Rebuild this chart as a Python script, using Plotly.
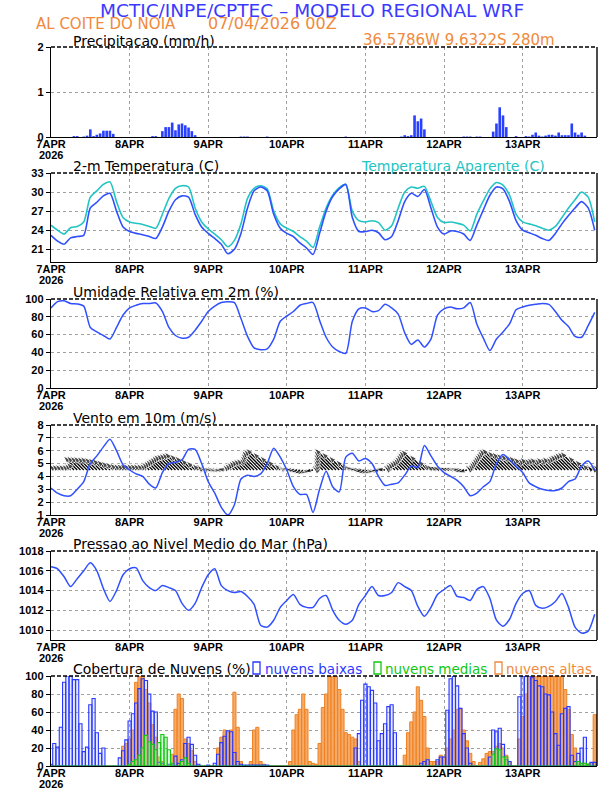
import plotly.graph_objects as go

W, H = 612, 792
L_PX, R_PX = 51, 597

hours = list(range(168))
t2 = list(range(0, 168, 2))
day_ticks = [0, 24, 48, 72, 96, 120, 144]
day_labels = ["7APR", "8APR", "9APR", "10APR", "11APR", "12APR", "13APR"]
year_label = "2026"

# Precipitation (mm/h), hourly
precip = [
    0, 0, 0, 0, 0, 0, 0, 0.02, 0.02, 0, 0.01, 0.03, 0.17, 0.02, 0.05, 0.08, 0.14, 0.14, 0.14, 0.07, 0, 0, 0, 0,
    0, 0, 0, 0, 0, 0, 0, 0.02, 0.02, 0, 0.13, 0.22, 0.22, 0.32, 0.15, 0.28, 0.30, 0.26, 0.21, 0.13, 0.04, 0, 0, 0,
    0, 0, 0, 0, 0, 0, 0, 0, 0, 0, 0.01, 0.01, 0.01, 0, 0, 0, 0, 0, 0.01, 0, 0, 0, 0, 0,
    0, 0, 0, 0, 0, 0, 0, 0, 0, 0, 0, 0, 0, 0, 0, 0, 0, 0, 0.01, 0, 0, 0, 0, 0,
    0, 0, 0, 0, 0, 0, 0, 0, 0, 0, 0, 0.01, 0.04, 0.02, 0.04, 0.48, 0.35, 0.41, 0.17, 0, 0, 0, 0, 0,
    0, 0, 0, 0, 0, 0, 0.01, 0.01, 0.01, 0, 0.01, 0.01, 0, 0, 0, 0.12, 0.30, 0.66, 0.48, 0.22, 0, 0, 0.02, 0,
    0, 0.02, 0.01, 0.05, 0.10, 0.03, 0.01, 0.03, 0.05, 0.05, 0.03, 0.10, 0.04, 0.04, 0.04, 0.30, 0.10, 0.05, 0.10, 0.03, 0, 0, 0, 0,
]

# 2-m temperature (C), every 2 h
temp2m = [
    23.2, 22.3, 21.8, 22.8, 23.0, 23.2, 27.5, 28.4, 29.4, 29.8, 27.0, 24.5,
    23.8, 23.5, 23.3, 23.0, 22.7, 24.5, 27.0, 28.8, 29.4, 29.2, 26.5, 24.5,
    23.5, 22.7, 21.8, 20.3, 21.0, 23.5, 27.5, 30.2, 30.8, 30.2, 26.5, 24.3,
    23.5, 23.0, 22.0, 21.2, 20.2, 23.5, 27.0, 29.3, 30.5, 31.2, 26.0, 23.8,
    23.8, 24.0, 23.6, 22.5, 23.0, 25.5, 28.5, 29.8, 29.3, 30.4, 27.5, 24.5,
    23.4, 23.9, 23.8, 23.4, 22.4, 24.8, 27.2, 29.5, 30.8, 30.5, 28.5, 25.5,
    24.0, 23.6, 23.2, 22.7, 22.4, 23.5, 25.0, 26.3, 27.5, 28.5, 27.5, 24.0,
]
# Apparent temperature (C), every 2 h
temp_apar = [
    24.8, 24.0, 23.4, 24.4, 24.6, 25.3, 29.2, 30.2, 31.2, 31.6, 28.5, 26.0,
    25.3, 25.1, 24.9, 24.6, 24.3, 26.5, 29.0, 30.6, 31.0, 30.8, 27.5, 25.3,
    24.2, 23.4, 22.5, 21.4, 22.4, 25.0, 29.0, 30.6, 31.0, 30.5, 27.0, 25.0,
    24.3, 23.8, 23.0, 22.3, 21.3, 24.5, 27.5, 29.5, 30.7, 31.2, 27.0, 25.5,
    25.3, 25.5, 25.2, 24.0, 24.7, 27.5, 30.0, 30.8, 30.6, 30.9, 28.5, 26.0,
    25.2, 25.3, 25.1, 24.8, 23.9, 26.5, 28.6, 30.5, 31.5, 31.1, 29.5, 26.5,
    25.3, 25.0, 24.7, 24.3, 24.0, 24.6, 26.0, 27.5, 28.8, 30.0, 29.2, 25.3,
]
# Relative humidity (%), every 2 h
umidade = [
    90, 97, 98, 95, 94.5, 92, 68, 63, 59, 55, 68, 82,
    90, 93, 95, 95, 95.5, 86, 68, 59, 56, 57, 65, 75,
    86, 92, 96, 97, 96, 78, 58, 45, 43, 44, 55, 75,
    81, 86, 93, 95, 96, 76, 57, 46, 41, 39, 75, 89,
    90, 86, 87, 94, 90, 83, 62, 49, 54, 46, 55, 82,
    89, 91, 89, 90, 96, 72, 56, 42, 55, 63, 72, 88,
    91, 93, 94, 95, 94, 86, 76, 69, 58, 57, 70, 85,
]
# Wind speed 10 m (m/s), every 2 h
vento = [
    3.1, 2.7, 2.5, 2.5, 3.0, 3.6, 5.0, 5.6, 6.3, 6.9, 6.0, 4.9,
    4.5, 4.2, 4.0, 3.4, 3.1, 4.3, 5.0, 5.1, 5.3, 6.1, 6.1, 5.0,
    3.6, 2.7, 1.6, 1.0, 1.8, 3.8, 4.1, 4.0, 4.2, 5.0, 6.2, 5.5,
    4.5, 3.2, 2.6, 2.6, 1.2, 3.0, 4.4, 3.2, 2.8, 5.5, 5.8, 5.2,
    5.4, 5.0, 4.0, 3.3, 3.4, 3.5, 4.1, 4.8, 4.7, 6.4, 5.6, 4.8,
    4.3, 4.0, 3.7, 3.2, 2.5, 2.7, 3.2, 3.6, 5.0, 5.7, 5.3, 4.8,
    4.3, 3.5, 3.2, 3.0, 2.9, 2.9, 3.1, 3.6, 3.8, 4.8, 5.2, 4.5,
]
# Wind vector components (m/s), hourly
vento_u = [
    -1.8, -1.8, -1.8, -1.8, -1.8, -1.8, -2.0, -2.4, -4.4, -4.4, -4.3, -4.3, -4.2, -4.2, -4.0, -3.8, -3.6, -3.2, -2.8, -2.5, -2.2, -2.0, -2.0, -2.0,
    -2.0, -2.0, -2.0, -2.0, -2.0, -2.0, -2.4, -2.8, -3.2, -3.6, -4.0, -4.4, -4.8, -5.0, -5.2, -5.4, -5.6, -5.0, -4.4, -3.6, -2.8, -2.0, -1.4, -1.0,
    -2.5, -2.5, -2.5, -2.5, -2.5, -2.5, -1.6, -2.0, -2.4, -2.8, -3.2, -3.4, -3.6, -3.6, -4.4, -5.2, -6.0, -6.4, -6.8, -5.6, -4.4, -3.2, -2.0, -1.6,
    -2.5, -2.8, -3.0, -3.0, -3.0, -3.0, -3.0, -3.0, -3.0, -1.0, -2.0, -3.0, -4.0, -5.0, -6.0, -6.8, -5.6, -4.4, -3.2, -2.4, -2.8, -3.0, -3.0, -3.0,
    -3.5, -3.5, -3.5, -3.5, -3.5, -3.5, -3.0, -1.2, -2.0, -2.4, -2.8, -3.2, -3.6, -4.2, -4.8, -5.4, -6.0, -6.4, -4.8, -3.2, -2.4, -2.5, -2.5, -2.5,
    -2.5, -2.5, -2.5, -2.5, -2.5, -2.8, -3.0, -3.0, -1.2, -1.8, -2.4, -3.0, -3.6, -4.2, -4.8, -5.4, -6.0, -6.6, -6.8, -6.0, -5.6, -5.2, -5.0, -4.8,
    -4.4, -4.0, -3.6, -4.0, -3.6, -3.8, -4.0, -3.6, -4.0, -3.8, -4.2, -4.0, -4.4, -4.8, -5.0, -5.4, -5.6, -5.8, -4.4, -3.2, -2.0, -1.4, -1.2, -1.2,
]
vento_v = [
    1.8, 1.8, 1.8, 1.8, 1.8, 1.8, 2.0, 2.4, 4.4, 4.4, 4.3, 4.3, 4.2, 4.2, 4.0, 3.8, 3.6, 3.2, 2.8, 2.5, 2.2, 2.0, 2.0, 2.0,
    2.0, 2.0, 2.0, 2.0, 2.0, 2.0, 2.4, 2.8, 3.2, 3.6, 4.0, 4.4, 4.8, 5.0, 5.2, 5.4, 5.6, 5.0, 4.4, 3.6, 2.8, 2.0, 1.4, 1.0,
    0.3, 0.0, -0.3, -0.3, 0.0, 0.4, 1.6, 2.0, 2.4, 2.8, 3.2, 3.4, 3.6, 3.6, 4.4, 5.2, 6.0, 6.4, 6.8, 5.6, 4.4, 3.2, 2.0, 1.2,
    0.8, 0.4, 0.0, -0.4, -0.8, -1.2, -1.4, -1.2, -0.6, 1.0, 2.0, 3.0, 4.0, 5.0, 6.0, 6.8, 5.6, 4.4, 3.2, 2.0, 1.2, 0.6, 0.2, -0.2,
    -0.6, -1.0, -1.2, -1.0, -0.6, -0.2, 0.4, 1.2, 2.0, 2.4, 2.8, 3.2, 3.6, 4.2, 4.8, 5.4, 6.0, 6.4, 4.8, 3.2, 2.0, 1.4, 1.2, 1.0,
    1.0, 0.8, 0.8, 0.6, 0.4, 0.0, -0.6, -0.8, 1.2, 1.8, 2.4, 3.0, 3.6, 4.2, 4.8, 5.4, 6.0, 6.6, 6.8, 6.0, 5.6, 5.2, 5.0, 4.8,
    4.4, 4.0, 3.6, 4.0, 3.6, 3.8, 4.0, 3.6, 4.0, 3.8, 4.2, 4.0, 4.4, 4.8, 5.0, 5.4, 5.6, 5.8, 4.4, 3.2, 2.0, 1.4, 1.2, 1.2,
]
# Mean sea level pressure (hPa), every 2 h
pressao = [
    1016.4, 1016.2, 1015.4, 1014.4, 1015.2, 1016.0, 1016.8, 1016.0, 1014.2, 1012.9, 1014.0, 1015.6,
    1016.2, 1016.3, 1015.0, 1014.3, 1014.0, 1014.5, 1014.3, 1014.0, 1012.7, 1012.0, 1012.7, 1014.3,
    1015.6, 1016.2, 1014.5, 1014.0, 1013.8, 1013.9, 1013.4, 1012.6, 1010.5, 1010.3, 1011.0, 1012.3,
    1013.0, 1013.6, 1012.6, 1012.3, 1012.3, 1013.2, 1013.5, 1012.0, 1011.0, 1010.6, 1011.0, 1012.6,
    1013.5, 1014.4, 1013.5, 1013.5, 1013.8, 1014.8, 1014.4, 1014.0, 1012.4, 1011.4, 1012.3, 1013.6,
    1014.1, 1014.5, 1013.4, 1013.3, 1013.0, 1014.1, 1014.4, 1013.2, 1011.0, 1010.4, 1011.1, 1012.7,
    1013.7, 1014.0, 1012.5, 1012.2, 1012.4, 1012.9, 1013.7, 1012.3, 1010.3, 1009.7, 1009.9, 1011.6,
]
# Cloud cover (%), hourly
nuvens_baixas = [
    2, 25, 21, 43, 93, 100, 100, 96, 96, 47, 16, 21, 68, 75, 37, 14, 20, 0, 0, 0, 0, 9, 17, 29,
    50, 58, 70, 86, 97, 95, 80, 61, 60, 4, 3, 0, 2, 2, 11, 3, 7, 25, 32, 24, 12, 2, 0, 0,
    1, 0, 3, 13, 26, 33, 39, 38, 15, 5, 2, 1, 1, 1, 1, 1, 1, 1, 1, 0, 0, 0, 0, 0,
    0, 0, 0, 0, 0, 0, 0, 0, 0, 0, 0, 0, 0, 0, 0, 0, 0, 0, 0, 0, 0, 20, 36, 73,
    91, 88, 84, 70, 28, 36, 47, 66, 68, 37, 0, 0, 0, 0, 0, 0, 0, 3, 5, 7, 0, 0, 7, 10,
    10, 62, 97, 100, 89, 64, 36, 20, 3, 0, 0, 0, 0, 0, 10, 40, 38, 42, 24, 7, 5, 0, 0, 77,
    100, 100, 100, 98, 95, 89, 88, 80, 79, 60, 36, 23, 58, 64, 66, 12, 5, 14, 20, 32, 2, 4, 4, 2,
]
nuvens_medias = [
    0, 0, 0, 0, 0, 0, 0, 0, 0, 0, 0, 0, 0, 0, 0, 0, 0, 0, 0, 0, 0, 0, 0, 0,
    2, 5, 7, 12, 20, 34, 27, 24, 18, 26, 35, 32, 18, 3, 0, 0, 5, 9, 3, 0, 0, 0, 0, 0,
    0, 0, 0, 0, 0, 0, 0, 0, 0, 0, 0, 0, 0, 0, 0, 0, 0, 0, 0, 0, 0, 0, 0, 0,
    0, 0, 0, 0, 0, 0, 0, 0, 0, 0, 0, 0, 0, 0, 0, 0, 0, 0, 0, 0, 0, 0, 0, 0,
    0, 0, 0, 0, 0, 0, 0, 0, 0, 0, 0, 0, 0, 0, 0, 0, 0, 0, 0, 0, 0, 0, 0, 0,
    0, 0, 0, 0, 0, 0, 0, 0, 0, 0, 0, 0, 0, 0, 0, 13, 19, 18, 10, 10, 0, 0, 0, 0,
    0, 0, 0, 0, 0, 0, 0, 0, 0, 0, 0, 0, 0, 0, 0, 0, 0, 5, 3, 3, 2, 0, 0, 0,
]
nuvens_altas = [
    0, 0, 0, 0, 0, 0, 0, 0, 0, 0, 0, 0, 0, 0, 0, 0, 0, 0, 0, 0, 0, 0, 22, 25,
    30, 40, 93, 100, 100, 85, 70, 46, 32, 10, 5, 0, 0, 13, 63, 80, 75, 30, 25, 17, 5, 0, 0, 0,
    0, 0, 0, 20, 32, 40, 37, 40, 82, 43, 5, 0, 0, 5, 40, 43, 5, 2, 0, 0, 0, 0, 0, 0,
    0, 5, 40, 57, 63, 80, 63, 5, 3, 2, 25, 65, 80, 100, 100, 100, 85, 63, 37, 35, 32, 30, 5, 0,
    0, 0, 0, 0, 0, 0, 0, 0, 0, 0, 0, 0, 12, 37, 49, 60, 88, 73, 55, 20, 5, 5, 5, 12,
    10, 20, 30, 40, 63, 64, 40, 28, 14, 5, 0, 4, 8, 14, 16, 16, 22, 25, 20, 12, 5, 0, 0, 30,
    55, 80, 100, 100, 100, 100, 100, 100, 100, 100, 100, 100, 100, 85, 63, 35, 20, 5, 3, 3, 2, 3, 57, 57,
]

# ---------------- styling ----------------
BLUE = "#3050ff"
CYAN = "#22c4c4"
ORANGE = "#f08a3c"
GREEN = "#10c810"
LOWBLUE = "#2838ff"
TITLE_BLUE = "#3a3aff"
FONT = "DejaVu Sans"
TICKFONT = dict(family="Liberation Sans", size=11, color="black", weight="bold")

# panel boxes in page pixels (top, bottom)
panels_px = [(47, 137), (173, 262), (299, 388), (425, 515), (551, 640), (676, 766)]


def px_x(x):
    return (x - L_PX) / (R_PX - L_PX)


def px_y(y):
    return 1 - y / H


fig = go.Figure()

# Precipitation
fig.add_trace(go.Bar(x=hours, y=precip, width=0.8, marker=dict(color="#2a40ff", line=dict(width=0)),
                     xaxis="x", yaxis="y"))

# Temperatures
fig.add_trace(go.Scatter(x=t2, y=temp_apar, mode="lines",
                         line=dict(color=CYAN, width=1.6, shape="spline", smoothing=0.7),
                         xaxis="x2", yaxis="y2"))
fig.add_trace(go.Scatter(x=t2, y=temp2m, mode="lines",
                         line=dict(color=BLUE, width=1.6, shape="spline", smoothing=0.7),
                         xaxis="x2", yaxis="y2"))

# Humidity
fig.add_trace(go.Scatter(x=t2, y=umidade, mode="lines",
                         line=dict(color=BLUE, width=1.5, shape="spline", smoothing=0.7),
                         xaxis="x3", yaxis="y3"))

# Wind vectors: tail on a base line, head along (u, v)
BASE = 4.5
KX, KY = 0.97, 0.25
ax_x, ax_y, msize = [], [], []
for h, u, v in zip(hours, vento_u, vento_v):
    ax_x += [h, h + KX * u, None]
    ax_y += [BASE, BASE + KY * v, None]
    msize += [0, 8, 0]
fig.add_trace(go.Scatter(x=ax_x, y=ax_y, mode="lines+markers", line=dict(color="black", width=1.3),
                         marker=dict(symbol="arrow", size=msize, color="black", angleref="previous"),
                         xaxis="x4", yaxis="y4"))
fig.add_trace(go.Scatter(x=t2, y=vento, mode="lines",
                         line=dict(color=BLUE, width=1.5, shape="spline", smoothing=0.7),
                         xaxis="x4", yaxis="y4"))

# Pressure
fig.add_trace(go.Scatter(x=t2, y=pressao, mode="lines",
                         line=dict(color=BLUE, width=1.5, shape="spline", smoothing=0.7),
                         xaxis="x5", yaxis="y5"))

# Clouds
fig.add_trace(go.Bar(x=hours, y=nuvens_altas, width=0.95,
                     marker=dict(color="rgba(246,165,95,0.95)", line=dict(color="#f08020", width=1.0)),
                     xaxis="x6", yaxis="y6"))
fig.add_trace(go.Bar(x=hours, y=nuvens_baixas, width=0.95,
                     marker=dict(color="rgba(150,165,255,0.22)", line=dict(color=LOWBLUE, width=1.1)),
                     xaxis="x6", yaxis="y6"))
fig.add_trace(go.Bar(x=hours, y=nuvens_medias, width=0.95,
                     marker=dict(color="rgba(140,235,140,0.35)", line=dict(color=GREEN, width=1.1)),
                     xaxis="x6", yaxis="y6"))

yaxes_cfg = [
    dict(range=[0, 2], tickvals=[0, 1, 2]),
    dict(range=[19, 33], tickvals=[21, 24, 27, 30, 33]),
    dict(range=[0, 100], tickvals=[0, 20, 40, 60, 80, 100]),
    dict(range=[1, 8], tickvals=[1, 2, 3, 4, 5, 6, 7, 8]),
    dict(range=[1009, 1018], tickvals=[1010, 1012, 1014, 1016, 1018]),
    dict(range=[0, 100], tickvals=[0, 20, 40, 60, 80, 100]),
]

layout = dict(
    width=W, height=H,
    margin=dict(l=L_PX, r=W - R_PX, t=0, b=0, pad=0, autoexpand=False),
    paper_bgcolor="white", plot_bgcolor="white",
    showlegend=False, barmode="overlay",
    shapes=[], annotations=[],
)

for i, ((top, bot), ycfg) in enumerate(zip(panels_px, yaxes_cfg)):
    n = "" if i == 0 else str(i + 1)
    layout["xaxis" + n] = dict(
        domain=[0, 1], anchor="y" + n, range=[0, 166.7], automargin=False,
        tickvals=day_ticks, ticktext=day_labels, tickfont=TICKFONT, ticklabelstandoff=-3,
        ticks="", showgrid=True, gridcolor="#a0a0a0", griddash="dot", gridwidth=1,
        showline=True, linecolor="black", linewidth=1.2, zeroline=False, fixedrange=True,
    )
    layout["yaxis" + n] = dict(
        domain=[px_y(bot), px_y(top)], anchor="x" + n, automargin=False,
        tickfont=TICKFONT, ticks="outside", ticklen=4, tickcolor="black", tickwidth=1,
        showgrid=True, gridcolor="#a0a0a0", griddash="dot", gridwidth=1,
        showline=True, linecolor="black", linewidth=1.2, zeroline=False, fixedrange=True,
        **ycfg,
    )
    yd = "y" + n + " domain"
    layout["shapes"].append(dict(type="line", xref="paper", yref=yd, x0=0, x1=1, y0=1, y1=1,
                                 line=dict(color="black", width=1.4, dash="4px,2px")))
    layout["shapes"].append(dict(type="line", xref="paper", yref=yd, x0=1, x1=1, y0=0, y1=1,
                                 line=dict(color="black", width=1.4)))
    # year line under the first date label
    layout["annotations"].append(dict(
        text=year_label, x=0, y=px_y(bot + 18), xref="paper", yref="paper",
        xanchor="center", yanchor="middle", showarrow=False, borderpad=0, font=TICKFONT))


def text(s, x, y, color="black", size=14, anchor="left"):
    layout["annotations"].append(dict(
        text=s, x=px_x(x), y=px_y(y), xref="paper", yref="paper", xanchor=anchor, yanchor="middle",
        showarrow=False, borderpad=0, font=dict(family=FONT, size=size, color=color)))


text("MCTIC/INPE/CPTEC – MODELO REGIONAL WRF", 312, 10, TITLE_BLUE, 18.5, "center")
text("AL COITE DO NOIA", 35, 24, ORANGE, 15)
text("07/04/2026 00Z", 207, 24, ORANGE, 16)
text("36.5786W 9.6322S 280m", 362, 40, ORANGE, 15)
text("Precipitacao (mm/h)", 72, 41)
text("2-m Temperatura (C)", 72, 166)
text("Temperatura Aparente (C)", 360, 166, CYAN)
text("Umidade Relativa em 2m (%)", 72, 292)
text("Vento em 10m (m/s)", 72, 418)
text("Pressao ao Nivel Medio do Mar (hPa)", 72, 544)
text("Cobertura de Nuvens (%)", 72, 669)
text("nuvens baixas", 264, 669, LOWBLUE, 13.5)
text("nuvens medias", 384, 669, GREEN, 13.5)
text("nuvens altas", 505, 669, ORANGE, 13.5)

for x0, col in [(253, LOWBLUE), (374, GREEN), (495, ORANGE)]:
    layout["shapes"].append(dict(type="rect", xref="paper", yref="paper",
                                 x0=px_x(x0), x1=px_x(x0 + 7), y0=px_y(674), y1=px_y(662),
                                 line=dict(color=col, width=1.3), fillcolor="white"))

fig.update_layout(**layout)
fig.write_html("out.html", config={"displayModeBar": False, "staticPlot": True},
               post_script="document.body.style.margin='0px';document.body.style.padding='0px';")
